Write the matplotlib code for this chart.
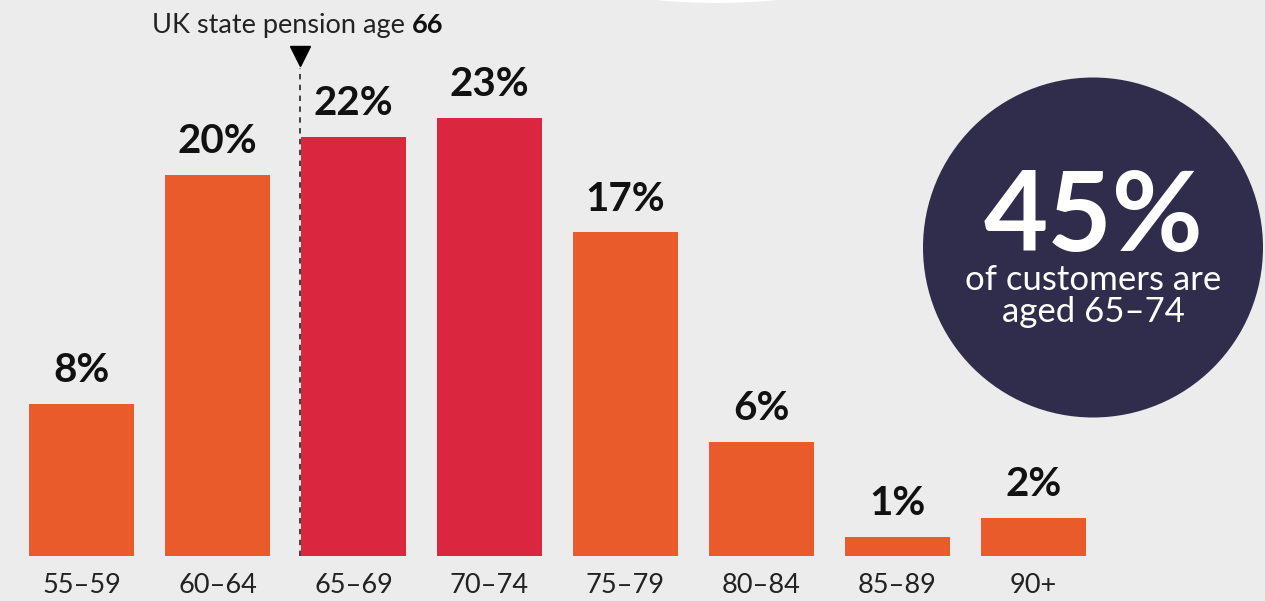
import matplotlib.pyplot as plt
from matplotlib.patches import Circle

# datos
age_groups = ["55–59", "60–64", "65–69", "70–74", "75–79", "80–84", "85–89", "90+"]
shares = [8, 20, 22, 23, 17, 6, 1, 2]
highlight = [False, False, True, True, False, False, False, False]
pension_age_label = "UK state pension age "
pension_age = "66"
big_stat = "45%"
big_stat_text = "of customers are\naged 65–74"

ORANGE = "#e95b2b"
RED = "#db2640"
NAVY = "#302c4b"
BG = "#ececec"
TXT = "#111111"

plt.rcParams["font.family"] = ["Lato", "DejaVu Sans"]

W, H = 12.65, 6.01
fig = plt.figure(figsize=(W, H), dpi=100, facecolor=BG)
ax = fig.add_axes([0, 45 / 601, 1, 556 / 601])
ax.set_facecolor(BG)

px_per_unit = 19.05
ax.set_xlim(-81.5 / 136, (1265 - 81.5) / 136)
ax.set_ylim(0, 556 / px_per_unit)

x = list(range(len(shares)))
colors = [RED if h else ORANGE for h in highlight]
ax.bar(x, shares, width=105 / 136, color=colors, zorder=2)

for xi, v in zip(x, shares):
    ax.annotate(f"{v}%", (xi, v), xytext=(0, 10.5), textcoords="offset points",
                ha="center", va="bottom", fontsize=29, fontweight="bold", color=TXT)

ax.set_xticks(x)
ax.set_xticklabels(age_groups, fontsize=19.5, color="#222222")
ax.tick_params(axis="x", length=0, pad=12)
ax.tick_params(axis="y", left=False, labelleft=False)
for s in ax.spines.values():
    s.set_visible(False)

# linea de edad de pension
xline = 2 - (105 / 136) / 2 - 0.008
ax.plot([xline, xline], [0, (556 - 68) / px_per_unit], color="#333333",
        lw=1.3, ls=(0, (3, 3)), zorder=3)
ax.plot([xline], [(556 - 56) / px_per_unit], marker="v", ms=15, color="black",
        mec="black", zorder=4, clip_on=False)
t = ax.text(-81.5 / 136 + 152 / 136, (556 - 25) / px_per_unit, pension_age_label,
            fontsize=19.5, color="#222222", va="center", ha="left")
fig.canvas.draw()
bb = t.get_window_extent()
fig.text(bb.x1 / fig.dpi / W, 1 - 25 / 601, pension_age, fontsize=19.5,
         fontweight="bold", color=TXT, va="center", ha="left")

# circulos decorativos
fig.patches.append(Circle((7.165, H + 6.29), 6.32, transform=fig.dpi_scale_trans,
                          facecolor="white", edgecolor="none", zorder=0))
fig.patches.append(Circle((10.93, H - 2.475), 1.70, transform=fig.dpi_scale_trans,
                          facecolor=NAVY, edgecolor="none", zorder=5))
fig.text(1093 / 1265, 1 - 219 / 601, big_stat, fontsize=80, fontweight="bold",
         color="white", ha="center", va="center", zorder=6)
fig.text(1093 / 1265, 1 - 296 / 601, big_stat_text, fontsize=25, color="white",
         ha="center", va="center", linespacing=1.0, zorder=6)

fig.savefig("out.png", dpi=100, facecolor=BG)
